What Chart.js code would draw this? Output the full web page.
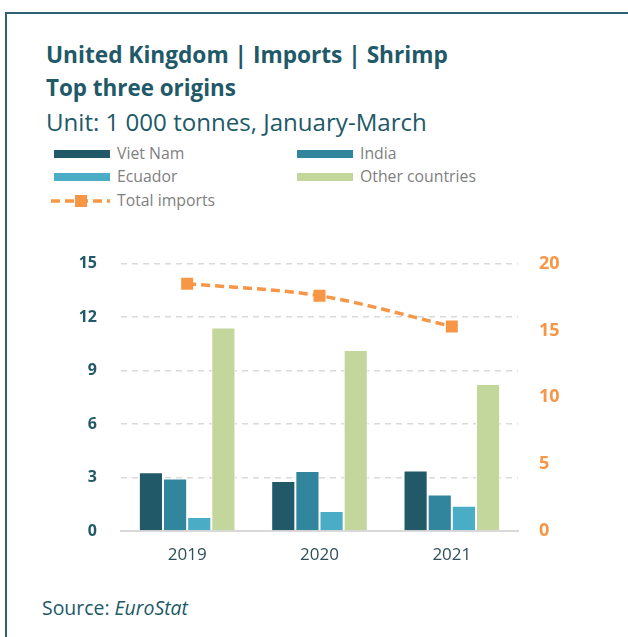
<!DOCTYPE html>
<html>
<head>
<meta charset="utf-8">
<script src="https://cdn.jsdelivr.net/npm/chart.js@4/dist/chart.umd.min.js"></script>
<style>
  body { margin: 0; background: #fff; font-family: "Open Sans", sans-serif; }
  #frame { position: absolute; left: 5px; top: 12px; width: 640px; height: 640px;
           border: 2px solid #2e6272; box-sizing: border-box; }
  .fit { position: absolute; white-space: nowrap; line-height: 1; }
  .title { left: 46px; color: #215968; font-weight: bold; }
  .sub { left: 46px; color: #215968; }
  .leg { position: absolute; font-size: 15.8px; color: #7f7f7f; white-space: nowrap; line-height: 1; }
  .sw { position: absolute; width: 56px; height: 8px; }
  #source { left: 42px; color: #215968; }
  #wrap { position: absolute; left: 0; top: 230px; width: 628px; height: 350px; }
</style>
</head>
<body>
<div id="frame"></div>
<div class="fit title" data-w="402" data-cy="55">United Kingdom | Imports | Shrimp</div>
<div class="fit title" data-w="190" data-cy="88">Top three origins</div>
<div class="fit sub" data-w="381" data-cy="122">Unit: 1 000 tonnes, January-March</div>
<div id="legend"></div>
<div id="wrap"><canvas id="chart"></canvas></div>
<div id="source" class="fit" data-w="146" data-cy="608">Source: <i>EuroStat</i></div>
<script>
// years and series (1 000 tonnes)
const years = ["2019", "2020", "2021"];
const vietNam = [3.3, 2.8, 3.4];
const india = [2.95, 3.37, 2.05];
const ecuador = [0.78, 1.12, 1.41];
const otherCountries = [11.42, 10.15, 8.25];
const totalImports = [18.5, 17.6, 15.3];

const leftTicks = [0, 3, 6, 9, 12, 15];
const rightTicks = [0, 5, 10, 15, 20];

const colors = {
  vietNam: "#215968",
  india: "#31859c",
  ecuador: "#4bacc6",
  other: "#c3d69b",
  total: "#f79646"
};

// size heading text to its box width, centre it on its line
document.querySelectorAll(".fit").forEach(el => {
  el.style.fontSize = "20px";
  let w = el.getBoundingClientRect().width;
  let size = 20 * el.dataset.w / w;
  el.style.fontSize = size.toFixed(2) + "px";
  let h = el.getBoundingClientRect().height;
  el.style.top = (el.dataset.cy - h / 2) + "px";
});

// html legend, two columns
const legendItems = [
  { label: "Viet Nam", color: colors.vietNam, x: 54, y: 154 },
  { label: "India", color: colors.india, x: 297, y: 154 },
  { label: "Ecuador", color: colors.ecuador, x: 54, y: 177 },
  { label: "Other countries", color: colors.other, x: 297, y: 177 },
  { label: "Total imports", color: colors.total, x: 50, y: 201, line: true }
];
let legend = document.getElementById("legend");
legendItems.forEach(it => {
  if (it.line) {
    let c = document.createElement("canvas");
    c.width = 62; c.height = 14;
    c.style.position = "absolute";
    c.style.left = it.x + "px";
    c.style.top = (it.y - 7) + "px";
    let g = c.getContext("2d");
    g.strokeStyle = it.color;
    g.lineWidth = 3.5;
    g.setLineDash([9, 5]);
    g.beginPath(); g.moveTo(1, 7); g.lineTo(60, 7); g.stroke();
    g.fillStyle = it.color;
    g.fillRect(25, 1, 12, 12);
    legend.appendChild(c);
  } else {
    let s = document.createElement("div");
    s.className = "sw";
    s.style.left = it.x + "px";
    s.style.top = (it.y - 4) + "px";
    s.style.background = it.color;
    legend.appendChild(s);
  }
  let t = document.createElement("div");
  t.className = "leg";
  t.innerText = it.label;
  legend.appendChild(t);
  t.style.left = (it.line ? it.x + 67 : it.x + 63) + "px";
  t.style.top = (it.y - t.getBoundingClientRect().height / 2) + "px";
});

function bar(label, data, color) {
  return {
    type: "bar", label: label, data: data, yAxisID: "y",
    backgroundColor: color, borderColor: "#ffffff", borderWidth: 1,
    barPercentage: 1, categoryPercentage: 0.73, order: 2
  };
}

new Chart(document.getElementById("chart"), {
  data: {
    labels: years,
    datasets: [
      {
        type: "line", label: "Total imports", data: totalImports, yAxisID: "y2",
        borderColor: colors.total, backgroundColor: colors.total,
        borderWidth: 3.5, borderDash: [9, 5], tension: 0.4, cubicInterpolationMode: "monotone",
        pointStyle: "rect", pointRadius: 6, pointHoverRadius: 6, order: 1
      },
      bar("Viet Nam", vietNam, colors.vietNam),
      bar("India", india, colors.india),
      bar("Ecuador", ecuador, colors.ecuador),
      bar("Other countries", otherCountries, colors.other)
    ]
  },
  options: {
    responsive: true,
    maintainAspectRatio: false,
    animation: false,
    layout: { padding: { top: 13, left: 0, right: 0, bottom: 0 } },
    plugins: { legend: { display: false }, tooltip: { enabled: false } },
    scales: {
      x: {
        grid: { display: false, drawTicks: false },
        border: { color: "#d9d9d9", width: 2 },
        ticks: { color: "#2f4f5a", font: { family: "Open Sans", size: 17 }, padding: 14 },
        afterFit: s => { s.height = 49; }
      },
      y: {
        position: "left", min: 0, max: 15,
        afterBuildTicks: s => { s.ticks = leftTicks.map(v => ({ value: v })); },
        grid: { color: "#d9d9d9", lineWidth: 1.5, drawTicks: false },
        border: { display: false, dash: [6, 5] },
        ticks: { color: "#215968", font: { family: "Open Sans", size: 16, weight: "bold" }, padding: 24 },
        afterFit: s => { s.width = 121; }
      },
      y2: {
        position: "right", min: 0, max: 20,
        afterBuildTicks: s => { s.ticks = rightTicks.map(v => ({ value: v })); },
        grid: { display: false, drawTicks: false },
        border: { display: false },
        ticks: { color: colors.total, font: { family: "Open Sans", size: 18, weight: "bold" }, padding: 21 },
        afterFit: s => { s.width = 110; }
      }
    }
  }
});
</script>
</body>
</html>
